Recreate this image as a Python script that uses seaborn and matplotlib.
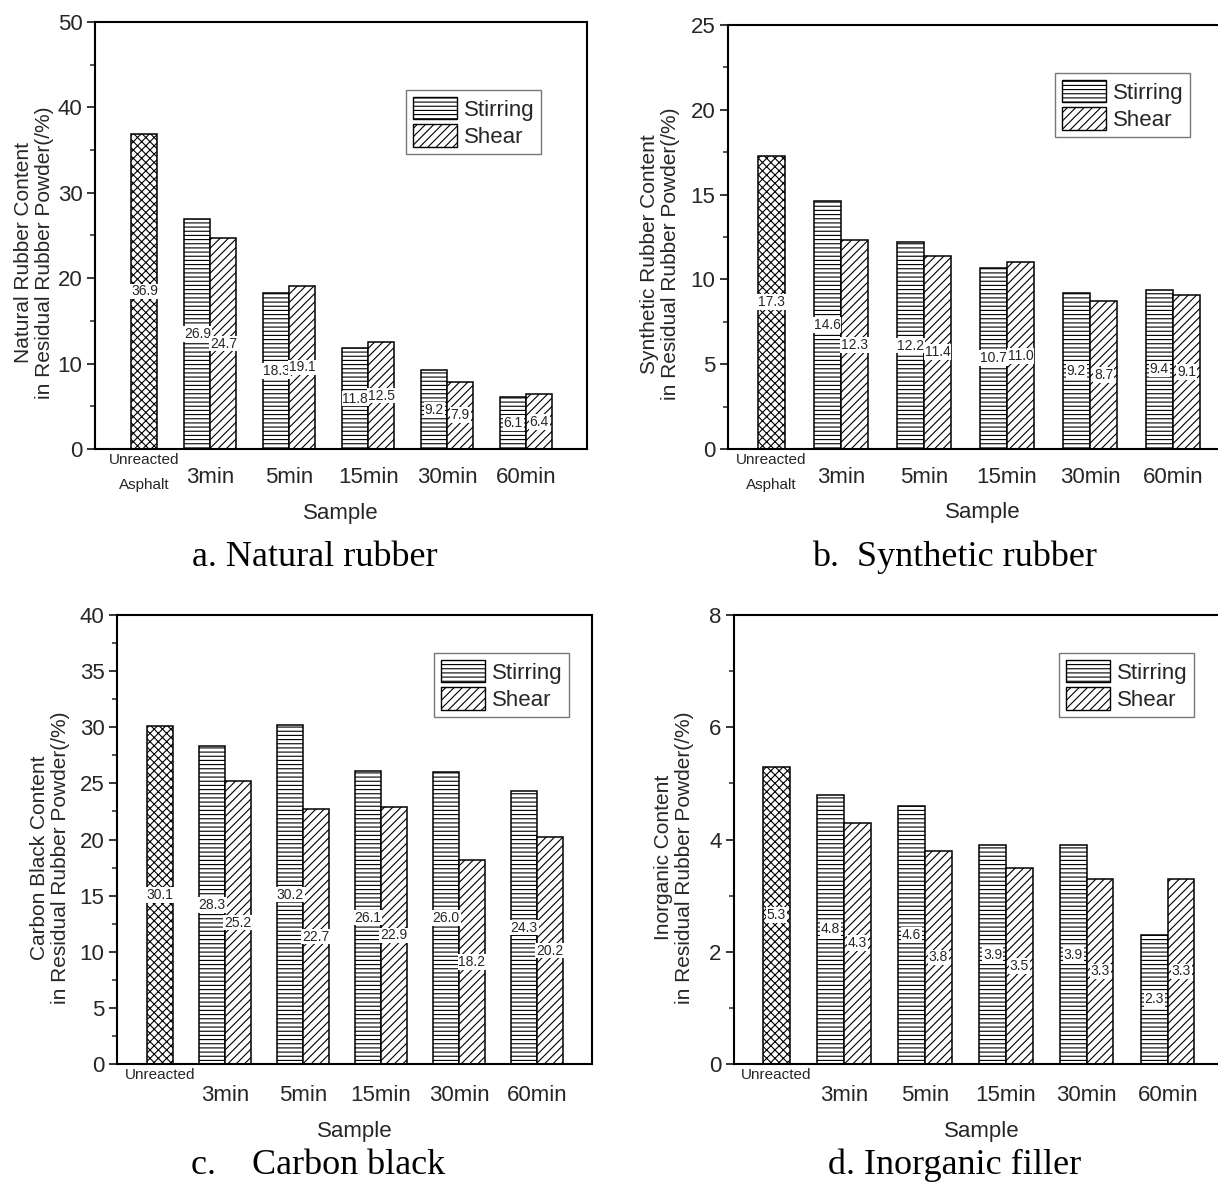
import numpy as np
import pandas as pd
import matplotlib
matplotlib.use("Agg")
import matplotlib.pyplot as plt
import seaborn as sns
from matplotlib.patches import Patch

# ---------------- data ----------------
categories = ["Unreacted", "3min", "5min", "15min", "30min", "60min"]
methods = ["Stirring", "Shear"]

nat_unreacted = 36.9
nat_stirring = [26.9, 18.3, 11.8, 9.2, 6.1]
nat_shear = [24.7, 19.1, 12.5, 7.9, 6.4]

syn_unreacted = 17.3
syn_stirring = [14.6, 12.2, 10.7, 9.2, 9.4]
syn_shear = [12.3, 11.4, 11.0, 8.7, 9.1]

cb_unreacted = 30.1
cb_stirring = [28.3, 30.2, 26.1, 26.0, 24.3]
cb_shear = [25.2, 22.7, 22.9, 18.2, 20.2]

inorg_unreacted = 5.3
inorg_stirring = [4.8, 4.6, 3.9, 3.9, 2.3]
inorg_shear = [4.3, 3.8, 3.5, 3.3, 3.3]

ylabels = [
    "Natural Rubber Content\nin Residual Rubber Powder(/%)",
    "Synthetic Rubber Content\nin Residual Rubber Powder(/%)",
    "Carbon Black Content\nin Residual Rubber Powder(/%)",
    "Inorganic Content\nin Residual Rubber Powder(/%)",
]
captions = ["a. Natural rubber", "b.  Synthetic rubber", "c.    Carbon black", "d. Inorganic filler"]
first_tick = ["Unreacted\nAsphalt", "Unreacted\nAsphalt", "Unreacted", "Unreacted"]
ymax = [50, 25, 40, 8]
ymajor = [10, 5, 5, 2]
xlabel = "Sample"

# ---------------- style ----------------
sns.set_theme(style="ticks")
NARROW = ["Liberation Sans Narrow", "Liberation Sans", "DejaVu Sans"]
plt.rcParams["font.family"] = NARROW
plt.rcParams["hatch.linewidth"] = 0.8
plt.rcParams["hatch.color"] = "black"

W, H = 1218, 1189
fig = plt.figure(figsize=(W / 100, H / 100), dpi=100)

# axes boxes in pixels: left, right, top, bottom
boxes = [(95, 587, 22, 449), (728, 1237, 25, 449), (117, 592, 615, 1064), (734, 1230, 615, 1064)]
xlims = [(-0.46, 5.77), (-0.36, 5.77), (-0.385, 5.705), (-0.36, 5.77)]
legend_ul = [(406, 90), (1055, 73), (434, 653), (1059, 653)]
caption_xy = [(315, 557), (955, 557), (318, 1165), (955, 1165)]
ylabel_x = [-0.124, -0.134, -0.141, -0.121]
tick_pad = [13, 13, 15, 15]

panels = [
    (nat_unreacted, nat_stirring, nat_shear),
    (syn_unreacted, syn_stirring, syn_shear),
    (cb_unreacted, cb_stirring, cb_shear),
    (inorg_unreacted, inorg_stirring, inorg_shear),
]

BAR_W = 0.66
HATCH = {"Stirring": "----", "Shear": "////", "Unreacted": "xxxx"}

for i, (unr, stir, shear) in enumerate(panels):
    l, r, t, b = boxes[i]
    ax = fig.add_axes([l / W, 1 - b / H, (r - l) / W, (b - t) / H])

    rows = [("Unreacted", "Shear", unr)]
    for c, s1, s2 in zip(categories[1:], stir, shear):
        rows.append((c, "Stirring", s1))
        rows.append((c, "Shear", s2))
    df = pd.DataFrame(rows, columns=["Sample", "Method", "Value"])

    sns.barplot(data=df, x="Sample", y="Value", hue="Method", order=categories,
                hue_order=methods, palette={"Stirring": "white", "Shear": "white"},
                width=BAR_W, gap=0, saturation=1, edgecolor="black", linewidth=1.1,
                legend=False, errorbar=None, ax=ax)

    for bar in ax.patches:
        cx = bar.get_x() + bar.get_width() / 2
        off = cx - round(cx)
        if round(cx) == 0:
            bar.set_hatch(HATCH["Unreacted"])
        elif off < 0:
            bar.set_hatch(HATCH["Stirring"])
        else:
            bar.set_hatch(HATCH["Shear"])

    for cont in ax.containers:
        ax.bar_label(cont, fmt="%.1f", label_type="center", fontsize=10,
                     bbox=dict(facecolor="white", edgecolor="none", pad=0.6))

    ax.set_xlim(*xlims[i])
    ax.set_ylim(0, ymax[i])
    ax.set_yticks(np.arange(0, ymax[i] + 0.001, ymajor[i]))
    ax.set_yticks(np.arange(ymajor[i] / 2, ymax[i], ymajor[i]), minor=True)
    ax.tick_params(axis="y", which="major", direction="out", length=6, width=1.3,
                   labelsize=16, pad=3)
    ax.tick_params(axis="y", which="minor", direction="out", length=3.5, width=1.1)
    ax.tick_params(axis="x", which="both", length=0, labelsize=16, pad=tick_pad[i])

    ax.set_xticks([BAR_W / 4] + list(range(1, 6)))
    ax.set_xticklabels([first_tick[i]] + categories[1:])
    lab0 = ax.get_xticklabels()[0]
    lab0.set_fontsize(11)
    lab0.set_linespacing(2.0)
    ax.xaxis.get_major_ticks()[0].set_pad(3)

    ax.set_xlabel(xlabel, fontsize=16)
    ax.xaxis.set_label_coords(0.5, -0.126)
    ax.set_ylabel(ylabels[i], fontsize=15, family=["Liberation Sans", "DejaVu Sans"],
                  linespacing=1.15, va="center")
    ax.yaxis.set_label_coords(ylabel_x[i], 0.46)

    for sp in ax.spines.values():
        sp.set_visible(True)
        sp.set_linewidth(1.5)
        sp.set_color("black")

    handles = [Patch(facecolor="white", edgecolor="black", hatch=HATCH[m], label=m)
               for m in methods]
    lx, ly = legend_ul[i]
    leg = ax.legend(handles=handles, loc="upper left",
                    bbox_to_anchor=(lx / W, 1 - ly / H), bbox_transform=fig.transFigure,
                    fontsize=16, frameon=True, fancybox=False, borderpad=0.3,
                    handlelength=2.0, handleheight=1.2, labelspacing=0.15,
                    handletextpad=0.3, borderaxespad=0)
    leg.get_frame().set_edgecolor("#555555")
    leg.get_frame().set_linewidth(1.0)

    cx, cy = caption_xy[i]
    fig.text(cx / W, 1 - cy / H, captions[i], ha="center", va="center",
             family=["Liberation Serif", "DejaVu Serif"], fontsize=26, color="black")

fig.savefig("out.png", dpi=100, facecolor="white")
